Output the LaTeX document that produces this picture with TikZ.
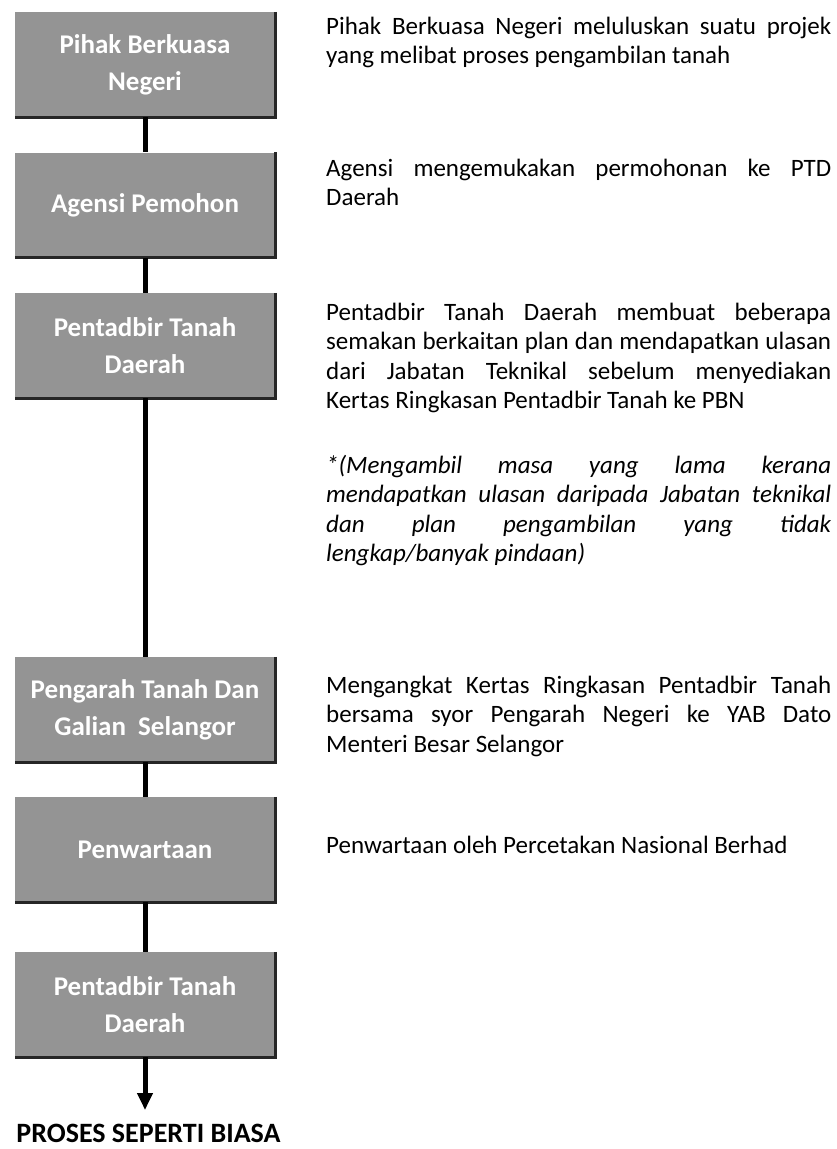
\documentclass[tikz,border=0pt]{standalone}
\usepackage{fontspec}
\setmainfont{Carlito}
\usetikzlibrary{arrows.meta}
\hbadness=10000
\tikzset{
  stepbox/.style={rectangle, fill=black!42, minimum width=260pt, minimum height=105pt,
    inner sep=0pt, align=center, text=white,
    font=\fontsize{27}{37}\selectfont\bfseries},
  desc/.style={anchor=north west, inner sep=0pt, text width=505pt, align=justify,
    font=\fontsize{25}{29.5}\selectfont},
  conn/.style={line width=5pt, black},
  shadowedge/.style={line width=3pt, black!85}
}
\begin{document}
\begin{tikzpicture}[x=1pt,y=-1pt]
\path[use as bounding box, fill=white] (0,0) rectangle (837,1149);

\node[stepbox] (b1) at (145,64.5) {Pihak Berkuasa\\Negeri};
\node[stepbox] (b2) at (145,205) {Agensi Pemohon};
\node[stepbox] (b3) at (145,345.5) {Pentadbir Tanah\\Daerah};
\node[stepbox] (b4) at (145,709.5) {Pengarah Tanah Dan\\Galian~ Selangor};
\node[stepbox] (b5) at (145,849.5) {Penwartaan};
\node[stepbox] (b6) at (145,1004.5) {Pentadbir Tanah\\Daerah};

\foreach \n in {b1,b2,b3,b4,b5,b6}{
  \draw[shadowedge] (\n.north east) -- (\n.south east) -- (\n.south west);
}

\coordinate (end) at (145,1110);
\draw[conn] (b1.south) -- (b2.north);
\draw[conn] (b2.south) -- (b3.north);
\draw[conn] (b3.south) -- (b4.north);
\draw[conn] (b4.south) -- (b5.north);
\draw[conn] (b5.south) -- (b6.north);
\draw[conn, -{Triangle[width=15pt,length=17pt]}] (b6.south) -- (end);

\node[font=\fontsize{28}{32}\selectfont\bfseries, inner sep=0pt] (proses) at (148.5,1133) {PROSES SEPERTI BIASA};

\node[desc] (t1) at (326,13.2) {\strut Pihak Berkuasa Negeri meluluskan suatu projek\linebreak yang melibat proses pengambilan tanah};
\node[desc] (t2) at (326,155.2) {\strut Agensi mengemukakan permohonan ke PTD\linebreak Daerah};
\node[desc] (t3) at (326,299.2) {\strut Pentadbir Tanah Daerah membuat beberapa\linebreak semakan berkaitan plan dan mendapatkan ulasan\linebreak dari Jabatan Teknikal sebelum menyediakan\linebreak Kertas Ringkasan Pentadbir Tanah ke PBN};
\node[desc, font=\fontsize{25}{29.5}\selectfont\itshape] (t3b) at (326,452.2) {\strut *(Mengambil masa yang lama kerana\linebreak mendapatkan ulasan daripada Jabatan teknikal\linebreak dan plan pengambilan yang tidak\linebreak lengkap/banyak pindaan)};
\node[desc] (t4) at (326,672.2) {\strut Mengangkat Kertas Ringkasan Pentadbir Tanah\linebreak bersama syor Pengarah Negeri ke YAB Dato\linebreak Menteri Besar Selangor};
\node[desc] (t5) at (326,832.2) {\strut Penwartaan oleh Percetakan Nasional Berhad};
\end{tikzpicture}
\end{document}
